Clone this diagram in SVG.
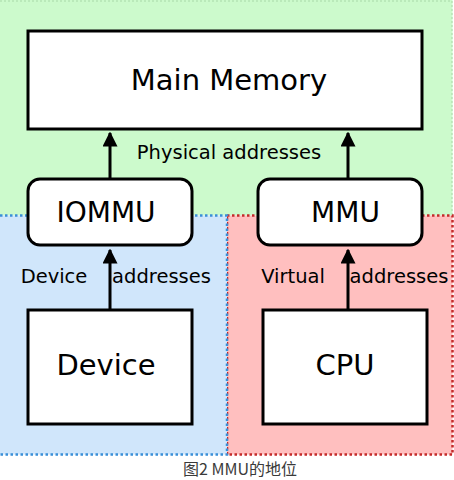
<svg xmlns="http://www.w3.org/2000/svg" width="454" height="480" viewBox="0 0 454 480">
<style>
.box{fill:#fff;stroke:#000;stroke-width:3}
.t{font-family:"DejaVu Sans",sans-serif;fill:#000;text-anchor:middle}
.big{font-size:29px}
.mid{font-size:28px}
.lbl{font-size:19.5px}
.conn line{stroke:#000;stroke-width:3}
</style>
<defs>
<marker id="ah" markerWidth="5" markerHeight="5" refX="4.5" refY="2.5" orient="auto" markerUnits="strokeWidth" viewBox="0 0 5 5">
<path d="M0,0 L5,2.5 L0,5 Z" fill="#000"/>
</marker>
</defs>
<rect width="454" height="480" fill="#fff"/>
<g id="zone-physical">
<rect x="0" y="0" width="452.5" height="215.5" fill="#ccfacc"/>
<path d="M0,1 H452 V215" fill="none" stroke="#a8d8a8" stroke-width="1" stroke-dasharray="2,2"/>
</g>
<g id="zone-virtual">
<rect x="227" y="215.5" width="225.5" height="239" fill="#ffbfbf" stroke="#c42a2a" stroke-width="2.5" stroke-dasharray="2.5,2.5"/>
</g>
<g id="zone-device">
<rect x="0" y="215.5" width="227" height="239" fill="#d0e6fb"/>
<path d="M0,215.5 H227 V454.5 H0" fill="none" stroke="#3a8fd8" stroke-width="2.5" stroke-dasharray="2.5,2.5"/>
</g>
<g id="main-memory">
<rect class="box" x="28" y="31" width="394" height="98"/>
<text class="t big" x="229" y="90">Main Memory</text>
</g>
<g id="iommu">
<rect class="box" x="28" y="179" width="164" height="66" rx="12"/>
<text class="t mid" x="106" y="222">IOMMU</text>
</g>
<g id="mmu">
<rect class="box" x="258" y="179" width="164" height="66" rx="12"/>
<text class="t mid" x="345.5" y="222">MMU</text>
</g>
<g id="device">
<rect class="box" x="28" y="310" width="164" height="114"/>
<text class="t big" x="106" y="375">Device</text>
</g>
<g id="cpu">
<rect class="box" x="263" y="310" width="164" height="114"/>
<text class="t big" x="345" y="375">CPU</text>
</g>
<g class="conn" id="connectors">
<line x1="110" y1="179" x2="110" y2="133" marker-end="url(#ah)"/>
<line x1="348" y1="179" x2="348" y2="133" marker-end="url(#ah)"/>
<line x1="110" y1="310" x2="110" y2="250" marker-end="url(#ah)"/>
<line x1="348" y1="310" x2="348" y2="250" marker-end="url(#ah)"/>
</g>
<g id="labels">
<text class="t lbl" x="229" y="159">Physical addresses</text>
<text class="t lbl" x="54" y="283">Device</text>
<text class="t lbl" x="161.5" y="283">addresses</text>
<text class="t lbl" x="293" y="283">Virtual</text>
<text class="t lbl" x="399" y="283">addresses</text>
</g>
<g id="caption">
<text x="240" y="475" font-family="'Noto Sans CJK SC',sans-serif" font-size="16" fill="#3a3a3a" text-anchor="middle">图2 MMU的地位</text>
</g>
</svg>
